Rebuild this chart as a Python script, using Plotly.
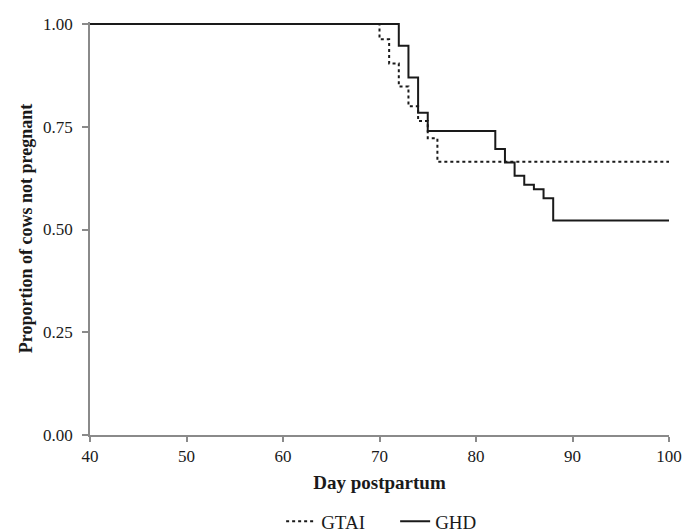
import plotly.graph_objects as go

# Data (Kaplan-Meier style step curves)
gtai_days = [40, 70, 71, 72, 73, 74, 75, 76, 100]
gtai_prop = [1.00, 0.963, 0.904, 0.848, 0.800, 0.764, 0.722, 0.665, 0.665]

ghd_days = [40, 72, 73, 74, 75, 82, 83, 84, 85, 86, 87, 88, 100]
ghd_prop = [1.00, 0.947, 0.870, 0.784, 0.740, 0.696, 0.663, 0.631, 0.609, 0.598, 0.576, 0.522, 0.522]

x_ticks = [40, 50, 60, 70, 80, 90, 100]
y_ticks = [0.00, 0.25, 0.50, 0.75, 1.00]
y_tick_labels = ["0.00", "0.25", "0.50", "0.75", "1.00"]

FONT = "Liberation Serif, Times New Roman, serif"
AXIS_COLOR = "#8a8a8a"
INK = "#1a1a1a"

fig = go.Figure()
fig.add_trace(go.Scatter(
    x=gtai_days, y=gtai_prop, mode="lines", name="GTAI",
    line=dict(shape="hv", color=INK, width=2, dash="dot"),
))
fig.add_trace(go.Scatter(
    x=ghd_days, y=ghd_prop, mode="lines", name="GHD",
    line=dict(shape="hv", color=INK, width=2),
))

fig.update_layout(
    width=684, height=532,
    margin=dict(l=90, r=15, t=22, b=97, autoexpand=False),
    paper_bgcolor="white", plot_bgcolor="white",
    font=dict(family=FONT, size=17, color=INK),
    showlegend=True,
    legend=dict(
        orientation="h", xref="paper", yref="paper",
        x=0.527, xanchor="center", y=-0.209, yanchor="middle",
        font=dict(family=FONT, size=19, color=INK),
        itemwidth=30, entrywidth=69, entrywidthmode="pixels",
        traceorder="normal",
        bgcolor="rgba(0,0,0,0)",
    ),
)

fig.update_xaxes(
    range=[40, 100], tickvals=x_ticks, automargin=False,
    showline=True, linecolor=AXIS_COLOR, linewidth=1.5,
    ticks="outside", ticklen=5, tickcolor=AXIS_COLOR, tickwidth=1.5,
    showgrid=False, zeroline=False,
    tickfont=dict(family=FONT, size=17, color=INK),
    title=dict(text="<b>Day postpartum</b>", font=dict(family=FONT, size=19, color=INK), standoff=11),
)
fig.update_yaxes(
    range=[0, 1.005], tickvals=y_ticks, ticktext=y_tick_labels, automargin=False,
    showline=True, linecolor=AXIS_COLOR, linewidth=1.5,
    ticks="outside", ticklen=6, tickcolor=AXIS_COLOR, tickwidth=1.5,
    ticklabelstandoff=6,
    showgrid=False, zeroline=False,
    tickfont=dict(family=FONT, size=17, color=INK),
    title=dict(text="<b>Proportion of cows not pregnant</b>", font=dict(family=FONT, size=18, color=INK), standoff=6),
)

fig.write_html(
    "out.html",
    config={"displayModeBar": False},
    post_script="document.body.style.margin='0';document.body.style.overflow='hidden';",
)
